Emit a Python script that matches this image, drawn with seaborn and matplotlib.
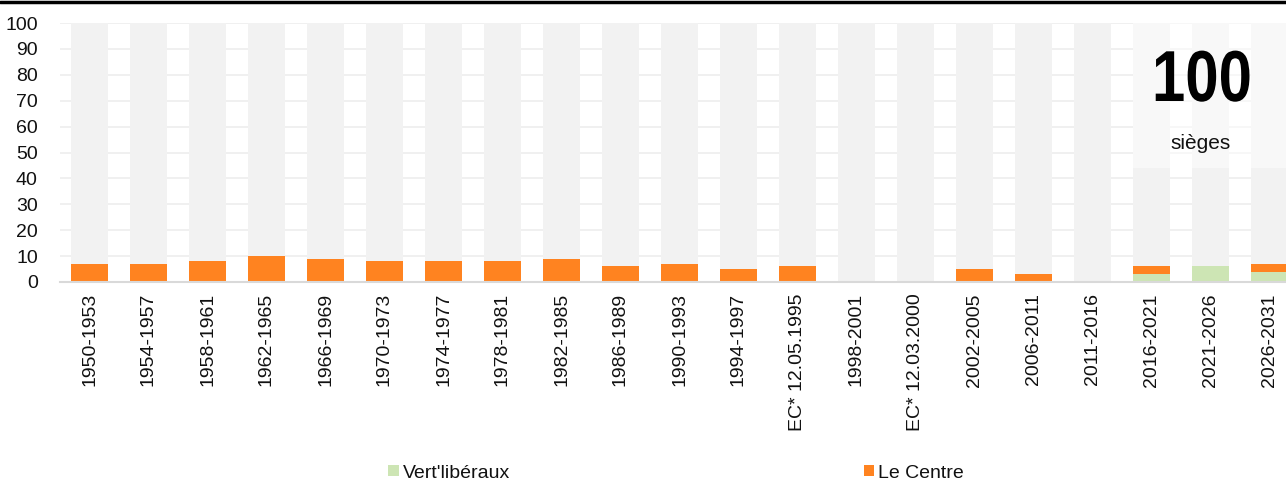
import matplotlib
matplotlib.use("Agg")
import matplotlib.pyplot as plt
from matplotlib.patches import Patch, Rectangle
from matplotlib.lines import Line2D
from matplotlib.patheffects import AbstractPathEffect
from matplotlib.transforms import Affine2D
import numpy as np
import pandas as pd
import seaborn as sns

# Legislatures (seats out of 100)
periods = ["1950-1953", "1954-1957", "1958-1961", "1962-1965", "1966-1969",
           "1970-1973", "1974-1977", "1978-1981", "1982-1985", "1986-1989",
           "1990-1993", "1994-1997", "EC* 12.05.1995", "1998-2001",
           "EC* 12.03.2000", "2002-2005", "2006-2011", "2011-2016",
           "2016-2021", "2021-2026", "2026-2031"]
le_centre = [7, 7, 8, 10, 9, 8, 8, 8, 9, 6, 7, 5, 6, 0, 0, 5, 3, 0, 3, 0, 3]
vert_liberaux = [0, 0, 0, 0, 0, 0, 0, 0, 0, 0, 0, 0, 0, 0, 0, 0, 0, 0, 3, 6, 4]
total_seats = 100

GREY = "#f2f2f2"
ORANGE = "#ff8320"
GREEN = "#cde5b4"


class Condense(AbstractPathEffect):
    """Narrow the glyphs horizontally around a fixed display x position."""

    def __init__(self, sx, cx):
        super().__init__()
        self.sx = sx
        self.cx = cx

    def draw_path(self, renderer, gc, tpath, affine, rgbFace=None):
        squeeze = Affine2D().translate(-self.cx, 0).scale(self.sx, 1).translate(self.cx, 0)
        renderer.draw_path(gc, tpath, affine + squeeze, rgbFace)


sns.set_theme(style="white")
plt.rcParams["font.family"] = ["Liberation Sans", "DejaVu Sans"]

df = pd.DataFrame({
    "period": periods,
    "centre": le_centre,
    "vert": vert_liberaux,
})
df["stack"] = df["centre"] + df["vert"]
df["seats"] = total_seats

W, H, DPI = 1286, 483, 100
fig = plt.figure(figsize=(W / DPI, H / DPI), dpi=DPI)
ax_left = 60 / W
ax_bottom = (H - 282) / H
ax_height = (282 - 23) / H
ax_width = 21 * 59 / W
ax = fig.add_axes([ax_left, ax_bottom, ax_width, ax_height])

bw = 0.64
sns.barplot(data=df, x="period", y="seats", order=periods, color=GREY,
            width=bw, saturation=1, ax=ax, zorder=2)
sns.barplot(data=df, x="period", y="stack", order=periods, color=ORANGE,
            width=bw, saturation=1, ax=ax, zorder=3)
sns.barplot(data=df, x="period", y="vert", order=periods, color=GREEN,
            width=bw, saturation=1, ax=ax, zorder=4)
for p in ax.patches:
    p.set_edgecolor("none")
    p.set_linewidth(0)

ax.set_xlim(-0.5, 20.5)
ax.set_ylim(0, 100)
ax.set_yticks(np.arange(0, 101, 10))
ax.yaxis.grid(True, color="#eeeeee", linewidth=1.2, zorder=0)
ax.set_axisbelow(True)
ax.set_xlabel("")
ax.set_ylabel("")
for s in ["top", "right", "left"]:
    ax.spines[s].set_visible(False)
ax.spines["bottom"].set_color("#d9d9d9")
ax.spines["bottom"].set_linewidth(1.5)
ax.spines["bottom"].set_zorder(5)
ax.tick_params(axis="y", length=0, pad=16, labelsize=14, labelcolor="#111111")
ax.tick_params(axis="x", length=0, pad=8, labelsize=14, labelcolor="#111111")
ax.set_xticks(range(len(periods)))
ax.set_xticklabels(periods, rotation=90, ha="center", va="top")

# translucent panel behind the seat count
ax.add_patch(Rectangle((17.68, 44), 3.0, 56.5, facecolor="white", alpha=0.5,
                       edgecolor="none", zorder=6, clip_on=False))

big_x = 1202
fig.text(big_x / W, 1 - 82 / H, "100", fontsize=52, fontweight="bold",
         ha="center", va="center", color="black", zorder=10,
         path_effects=[Condense(0.83, big_x)])
fig.text(1201 / W, 1 - 143 / H, "sièges", fontsize=15, ha="center",
         va="center", color="#111111", zorder=10)

# top rule
fig.add_artist(Line2D([0, 1], [1 - 1.5 / H, 1 - 1.5 / H], color="black",
                      linewidth=2.5, transform=fig.transFigure))

handles = [Patch(facecolor=GREEN, edgecolor="none", label="Vert'libéraux"),
           Patch(facecolor=ORANGE, edgecolor="none", label="Le Centre")]
fig.legend(handles=handles, loc="center left", bbox_to_anchor=(388 / W, 1 - 473 / H),
           ncol=2, frameon=False, fontsize=14, handlelength=0.55,
           handleheight=0.55, handletextpad=0.2, columnspacing=18.2,
           borderpad=0, borderaxespad=0, labelcolor="#111111")

fig.savefig("out.png", dpi=DPI)
